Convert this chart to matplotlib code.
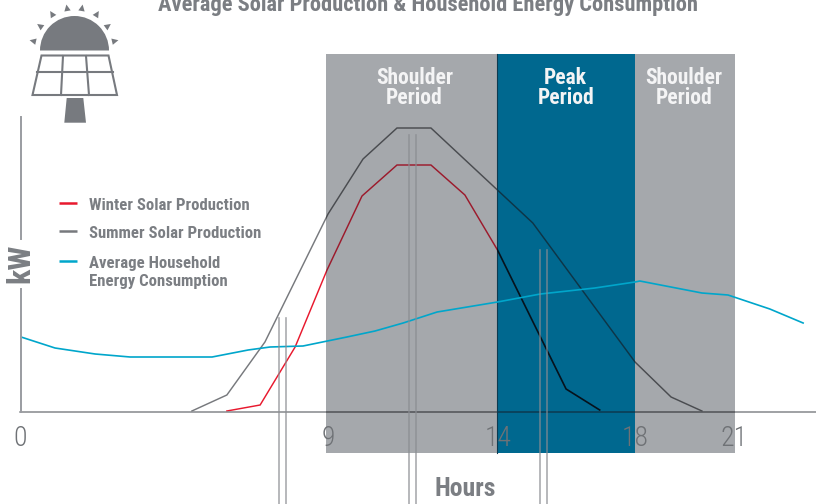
import matplotlib
matplotlib.use('Agg')
import numpy as np
from matplotlib import pyplot as plt
from matplotlib import font_manager as fm
from matplotlib.patches import Polygon, Wedge

# take a narrow family if there is one
names = {f.name for f in fm.fontManager.ttflist}
for fam in ['Roboto Condensed', 'Liberation Sans Narrow', 'Open Sans Condensed', 'Noto Sans Condensed', 'Roboto']:
    if fam in names:
        break
plt.rcParams['font.family'] = [fam, 'DejaVu Sans']
fs = 1.0 if fam != 'Roboto' else 0.9

# hours, relative kW (one unit = 10 px of height above the baseline)
winter_h = [6.11, 7.08, 8.10, 9.03, 10.05, 11.07, 12.06, 13.05, 14.0, 16.0, 16.98]
winter_kw = [0.1, 0.7, 6.5, 14.2, 21.6, 24.7, 24.7, 21.7, 16.2, 2.3, 0.2]
summer_h = [5.09, 6.11, 7.22, 9.06, 10.08, 11.07, 12.06, 15.03, 18.01, 19.06, 19.96]
summer_kw = [0.1, 1.7, 7.0, 19.8, 25.3, 28.4, 28.4, 18.9, 5.0, 1.5, 0.1]
house_h = [0.11, 1.10, 2.27, 3.29, 5.68, 6.73, 7.37, 8.33, 9.61, 10.43, 11.25, 12.24,
           14.0, 15.25, 16.84, 18.01, 18.15, 19.96, 20.72, 21.94, 22.91]
house_kw = [7.5, 6.4, 5.8, 5.5, 5.5, 6.2, 6.5, 6.6, 7.5, 8.1, 8.9, 10.0,
            11.0, 11.8, 12.4, 13.0, 13.1, 11.9, 11.7, 10.3, 8.9]

hour_ticks = ['0', '9', '14', '18', '21']
tick_pos = [0.08, 9.06, 14.03, 18.0, 20.91]
band_edges = [(9, 14), (14, 18), (18, 20.91)]
band_labels = ['Shoulder\nPeriod', 'Peak\nPeriod', 'Shoulder\nPeriod']
band_label_pos = [11.58, 15.99, 19.44]
# (hour of the double line, top of it in kW units)
double_lines = [(7.73, 9.4), (11.52, 27.7), (15.34, 16.2)]

GRAY = '#a5a8ac'
TEAL = '#00688f'
TEXT = '#7b7e83'

fig = plt.figure(figsize=(8.16, 5.04), dpi=100)
ax = fig.add_axes([0, 0, 1, 1])
ax.set_xlim(-0.504, 23.286)
ax.set_ylim(-9.2, 41.2)
ax.axis('off')

band_colors = [GRAY, TEAL, GRAY]
band_bot, band_top = -4.1, 35.8
for (a, b), c in zip(band_edges, band_colors):
    ax.fill_between([a, b], band_bot, band_top, color=c, lw=0, zorder=1)


def clip_line(x, y, color, x0, x1, lw=1.05, z=3):
    l, = ax.plot(x, y, color=color, lw=lw, zorder=z, solid_joinstyle='miter')
    r = plt.Rectangle((x0, -10), x1 - x0, 60, transform=ax.transData)
    l.set_clip_path(r)


# lines look overprinted on the bands, so each stretch gets its own colour
base_x = [0.08, 24]
base_y = [0, 0]
for x0, x1 in [(-1, 9), (20.91, 24)]:
    clip_line(winter_h, winter_kw, '#e8192e', x0, x1)
    clip_line(summer_h, summer_kw, '#77797d', x0, x1)
    clip_line(base_x, base_y, '#85878b', x0, x1, lw=1.1)
for x0, x1 in [(9, 14), (18, 20.91)]:
    clip_line(winter_h, winter_kw, '#9c1a2c', x0, x1)
    clip_line(summer_h, summer_kw, '#4a4c50', x0, x1)
    clip_line(base_x, base_y, '#4f5155', x0, x1, lw=1.1)
clip_line(winter_h, winter_kw, '#06121c', 14, 18, lw=1.2)
clip_line(summer_h, summer_kw, '#0e3547', 14, 18)
clip_line(base_x, base_y, '#0d3a50', 14, 18, lw=1.1)
ax.plot([14, 14], [band_bot, band_top], color='#0d3a50', lw=0.8, zorder=2)
ax.plot(house_h, house_kw, color='#00a6cb', lw=1.2, zorder=4)

for h, top in double_lines:
    for dx in (-0.102, 0.102):
        ax.plot([h + dx, h + dx], [-9.2, top], color='#8a8c91', alpha=0.72, lw=1.2, zorder=5)

for x, lab in zip(band_label_pos, band_labels):
    ax.text(x, 32.4, lab, ha='center', va='center', color='#f4f4f5', fontsize=15.5 * fs,
            fontweight='bold', linespacing=0.85, zorder=6)

for x, lab in zip(tick_pos, hour_ticks):
    ax.text(x, -2.6, lab, ha='center', va='center', color='#6f7276', fontsize=20 * fs,
            fontweight='light', zorder=6)

ax.text(13.05, -7.7, 'Hours', ha='center', va='center', color=TEXT, fontsize=18.5 * fs, fontweight='bold')

# pixel overlay for title, legend and icon
ov = fig.add_axes([0, 0, 1, 1], facecolor='none')
ov.set_xlim(0, 816)
ov.set_ylim(504, 0)
ov.axis('off')

ov.text(428, 4.5, 'Average Solar Production & Household Energy Consumption', ha='center',
        va='center', color=TEXT, fontsize=16.2 * fs, fontweight='bold')

legend_y = [204, 232, 262]
legend_text_y = [205, 233, 272.5]
legend_labels = ['Winter Solar Production', 'Summer Solar Production', 'Average Household\nEnergy Consumption']
legend_colors = ['#e8192e', '#77797d', '#00a6cb']
for lab, c, y, ty in zip(legend_labels, legend_colors, legend_y, legend_text_y):
    ov.plot([59, 77], [y - 1.5, y - 1.5], color=c, lw=1.8, solid_capstyle='butt')
    ov.text(89, ty, lab, ha='left', va='center', color=TEXT, fontsize=12.05 * fs, fontweight='bold',
            linespacing=1.3)

ov.plot([20.5, 20.5], [117, 239], color='#9a9ca1', lw=1.4)
ov.plot([20.5, 20.5], [289, 412], color='#9a9ca1', lw=1.4)
ov.text(20.5, 263, 'kW', rotation=90, ha='center', va='center', color=TEXT, fontsize=23 * fs, fontweight='bold')

# icon
ICON = '#777a7f'
ov.add_patch(Wedge((74.5, 50.5), 34.5, 180, 360, color=ICON, lw=0))
for px, py in [(33, 41), (40, 26), (52, 14), (67, 8), (82, 8), (97, 14), (108, 26), (115, 41)]:
    t = np.arctan2(py - 50.5, px - 74.5)
    u = np.array([np.cos(t), np.sin(t)])
    n = np.array([-u[1], u[0]])
    c = np.array([px, py])
    ov.add_patch(Polygon([c + 3.5 * u, c - 3 * u + 3.2 * n, c - 3 * u - 3.2 * n], color=ICON, lw=0))
ov.add_patch(Polygon([(41.5, 55.5), (108.5, 55.5), (117, 95), (32.5, 95)], fill=False, ec=ICON, lw=1.5))
ov.plot([36.5, 112.5], [72, 72], color=ICON, lw=1.5)
ov.plot([63, 61], [56, 95], color=ICON, lw=1.5)
ov.plot([86, 89], [56, 95], color=ICON, lw=1.5)
ov.add_patch(Polygon([(66.7, 98), (83.3, 98), (86, 122.7), (64.3, 122.7)], color=ICON, lw=0))

fig.savefig('out.png', dpi=100)
